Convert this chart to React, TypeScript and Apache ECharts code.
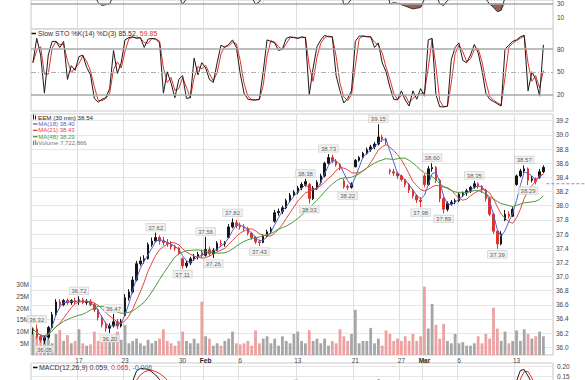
import { useEffect, useRef } from 'react';
import * as echarts from 'echarts';

const FONT = '"Liberation Sans", Arial, sans-serif';

// ---------- time axis ----------
const tradingDays = [
  'Jan 10', 'Jan 11', 'Jan 12', 'Jan 13', 'Jan 17', 'Jan 18', 'Jan 19', 'Jan 20', 'Jan 23', 'Jan 24',
  'Jan 25', 'Jan 26', 'Jan 27', 'Jan 30', 'Jan 31', 'Feb 1', 'Feb 2', 'Feb 3', 'Feb 6', 'Feb 7',
  'Feb 8', 'Feb 9', 'Feb 10', 'Feb 13', 'Feb 14', 'Feb 15', 'Feb 16', 'Feb 17', 'Feb 21', 'Feb 22',
  'Feb 23', 'Feb 24', 'Feb 27', 'Feb 28', 'Mar 1', 'Mar 2', 'Mar 3', 'Mar 6', 'Mar 7', 'Mar 8',
  'Mar 9', 'Mar 10', 'Mar 13', 'Mar 14', 'Mar 15',
];
const barsPerDay = 3;
const paddingSlots = 1;
const tickLabels: Record<string, string> = {
  'Jan 17': '17', 'Jan 23': '23', 'Jan 30': '30', 'Feb 1': 'Feb', 'Feb 6': '6', 'Feb 13': '13',
  'Feb 21': '21', 'Feb 27': '27', 'Mar 1': 'Mar', 'Mar 6': '6', 'Mar 13': '13',
};
const monthLabels = ['Feb', 'Mar'];

// ---------- price bars: [open, high, low, close] ----------
const ohlc: [number, number, number, number][] = [
  [36.24, 36.28, 36.18, 36.26], [36.26, 36.32, 36.12, 36.15], [36.15, 36.18, 36.07, 36.10],
  [36.10, 36.16, 36.05, 36.14], [36.14, 36.30, 36.12, 36.28], [36.28, 36.50, 36.26, 36.46],
  [36.46, 36.68, 36.44, 36.64], [36.64, 36.68, 36.55, 36.60], [36.60, 36.68, 36.58, 36.66],
  [36.66, 36.69, 36.60, 36.63], [36.63, 36.68, 36.60, 36.66], [36.66, 36.70, 36.61, 36.64],
  [36.64, 36.72, 36.60, 36.67], [36.67, 36.70, 36.61, 36.63], [36.63, 36.68, 36.60, 36.65],
  [36.65, 36.68, 36.58, 36.60], [36.60, 36.63, 36.50, 36.53], [36.53, 36.55, 36.38, 36.42],
  [36.42, 36.45, 36.28, 36.32], [36.32, 36.36, 36.22, 36.27], [36.27, 36.34, 36.20, 36.30],
  [36.30, 36.47, 36.28, 36.36], [36.36, 36.40, 36.26, 36.30], [36.30, 36.40, 36.28, 36.37],
  [36.45, 36.75, 36.44, 36.70], [36.70, 36.82, 36.66, 36.78], [36.78, 37.00, 36.76, 36.95],
  [36.95, 37.22, 36.93, 37.18], [37.18, 37.28, 37.15, 37.22], [37.22, 37.30, 37.18, 37.25],
  [37.25, 37.48, 37.24, 37.45], [37.45, 37.55, 37.42, 37.50], [37.50, 37.62, 37.48, 37.55],
  [37.55, 37.58, 37.45, 37.50], [37.50, 37.56, 37.44, 37.48], [37.48, 37.53, 37.42, 37.46],
  [37.46, 37.50, 37.38, 37.42], [37.42, 37.45, 37.36, 37.40], [37.40, 37.42, 37.30, 37.33],
  [37.25, 37.27, 37.11, 37.15], [37.15, 37.22, 37.12, 37.19], [37.19, 37.28, 37.16, 37.25],
  [37.25, 37.32, 37.22, 37.28], [37.28, 37.35, 37.24, 37.31], [37.34, 37.38, 37.26, 37.30],
  [37.30, 37.56, 37.28, 37.38], [37.38, 37.42, 37.28, 37.32], [37.32, 37.40, 37.26, 37.37],
  [37.37, 37.50, 37.36, 37.47], [37.47, 37.52, 37.42, 37.46], [37.46, 37.50, 37.42, 37.48],
  [37.55, 37.74, 37.54, 37.70], [37.70, 37.82, 37.68, 37.76], [37.76, 37.80, 37.68, 37.72],
  [37.72, 37.76, 37.66, 37.70], [37.70, 37.74, 37.64, 37.68], [37.68, 37.70, 37.58, 37.61],
  [37.61, 37.63, 37.52, 37.55], [37.55, 37.57, 37.46, 37.49], [37.49, 37.52, 37.43, 37.48],
  [37.48, 37.60, 37.47, 37.57], [37.57, 37.66, 37.55, 37.63], [37.63, 37.70, 37.60, 37.67],
  [37.78, 37.94, 37.76, 37.90], [37.90, 37.96, 37.86, 37.92], [37.92, 38.00, 37.88, 37.97],
  [37.97, 38.10, 37.95, 38.07], [38.07, 38.18, 38.05, 38.15], [38.15, 38.22, 38.12, 38.19],
  [38.19, 38.28, 38.16, 38.25], [38.25, 38.33, 38.22, 38.30], [38.30, 38.38, 38.27, 38.34],
  [38.30, 38.32, 38.03, 38.10], [38.10, 38.28, 38.08, 38.25], [38.25, 38.36, 38.22, 38.33],
  [38.33, 38.45, 38.30, 38.42], [38.42, 38.62, 38.40, 38.60], [38.60, 38.73, 38.58, 38.68],
  [38.68, 38.72, 38.60, 38.63], [38.63, 38.66, 38.55, 38.58], [38.58, 38.60, 38.50, 38.53],
  [38.35, 38.38, 38.24, 38.27], [38.27, 38.30, 38.22, 38.26], [38.26, 38.33, 38.24, 38.31],
  [38.55, 38.66, 38.54, 38.64], [38.64, 38.70, 38.62, 38.68], [38.68, 38.76, 38.66, 38.74],
  [38.74, 38.82, 38.72, 38.79], [38.79, 38.86, 38.76, 38.83], [38.83, 38.90, 38.80, 38.87],
  [38.87, 39.15, 38.85, 38.97], [38.97, 39.00, 38.90, 38.94], [38.94, 38.96, 38.86, 38.90],
  [38.50, 38.52, 38.44, 38.48], [38.48, 38.52, 38.42, 38.46], [38.46, 38.48, 38.38, 38.42],
  [38.42, 38.44, 38.34, 38.37], [38.37, 38.38, 38.26, 38.30], [38.30, 38.32, 38.18, 38.22],
  [38.22, 38.24, 38.10, 38.14], [38.14, 38.16, 38.04, 38.08], [38.08, 38.12, 37.98, 38.06],
  [38.42, 38.45, 38.26, 38.30], [38.30, 38.56, 38.28, 38.52], [38.52, 38.60, 38.48, 38.54],
  [38.54, 38.56, 38.32, 38.36], [38.36, 38.38, 38.05, 38.10], [38.10, 38.12, 37.89, 37.95],
  [37.95, 38.06, 37.92, 38.03], [38.03, 38.08, 38.00, 38.05], [38.05, 38.10, 38.02, 38.07],
  [38.07, 38.18, 38.05, 38.16], [38.16, 38.20, 38.12, 38.18], [38.18, 38.24, 38.14, 38.21],
  [38.21, 38.28, 38.18, 38.26], [38.26, 38.35, 38.24, 38.31], [38.31, 38.33, 38.24, 38.27],
  [38.27, 38.29, 38.18, 38.22], [38.22, 38.24, 38.06, 38.10], [38.10, 38.12, 37.85, 37.88],
  [37.88, 37.90, 37.60, 37.64], [37.64, 37.66, 37.39, 37.46], [37.46, 37.64, 37.44, 37.60],
  [37.80, 37.94, 37.78, 37.88], [37.88, 37.92, 37.82, 37.85], [37.85, 37.98, 37.84, 37.95],
  [38.30, 38.44, 38.28, 38.42], [38.42, 38.52, 38.40, 38.49], [38.49, 38.57, 38.46, 38.52],
  [38.52, 38.54, 38.29, 38.36], [38.36, 38.42, 38.33, 38.38], [38.38, 38.40, 38.30, 38.34],
  [38.40, 38.52, 38.38, 38.48], [38.48, 38.57, 38.46, 38.54],
];

// volume per bar, millions
const volumeM = [
  10, 8, 6, 8.5, 7, 5, 9, 10.7, 6, 8.5,
  5, 6, 11, 5, 4, 4.5, 10, 6, 5.5, 7,
  6, 8, 10, 6.5, 12.8, 5, 6, 7, 5, 4,
  6.5, 5, 6, 7, 11, 6, 5, 4, 6, 10,
  6, 5, 7, 5, 22.8, 8, 7, 4, 5, 4,
  6, 7, 10, 5, 4.5, 5, 6, 4, 10.5, 5,
  7, 8, 5, 7, 4, 8, 6, 5, 9, 10,
  6, 5, 10.6, 6, 7, 5, 7, 4, 6, 5,
  11, 8, 6, 9, 19.3, 5, 6, 6, 11.6, 5,
  7, 4, 10.5, 9, 6, 7, 6, 8, 6, 9,
  6, 8, 29.2, 11.3, 21.8, 12.9, 7, 13.3, 6, 5,
  9, 5, 5.5, 4, 4, 5, 8, 5, 9, 7,
  20.2, 11.3, 6, 10, 5, 6, 10.5, 6, 11, 9,
  7, 8, 10, 8,
];

// moving-average windows expressed in this chart's bars
const maBarSpans = [3, 7, 14];

// slow stochastic %K
const stoK = [
  62, 94, 72, 22, 72, 90, 90, 82, 90, 40,
  58, 52, 70, 72, 56, 46, 15, 10, 14, 16,
  28, 78, 48, 62, 92, 95, 96, 94, 95, 82,
  93, 94, 93, 88, 22, 50, 35, 16, 40, 45,
  15, 16, 68, 46, 62, 55, 40, 36, 62, 85,
  82, 86, 92, 82, 48, 22, 14, 13, 13, 14,
  50, 92, 90, 88, 78, 80, 94, 96, 95, 94,
  96, 95, 20, 55, 83, 92, 98, 96, 96, 45,
  25, 9, 15, 25, 90, 97, 97, 96, 96, 82,
  88, 62, 50, 30, 14, 13, 25, 13, 5, 25,
  14, 28, 18, 92, 94, 20, 4, 4, 5, 66,
  82, 88, 65, 62, 72, 86, 75, 52, 22, 14,
  11, 8, 5, 80, 85, 90, 92, 96, 98, 25,
  50, 40, 18, 85.52,
];

// top (cut-off) oscillator panel
const rsi = [
  48, 46, 38, 40, 52, 62, 70, 66, 67, 63,
  64, 62, 63, 58, 57, 52, 42, 31, 27, 28,
  29, 42, 38, 41, 62, 68, 74, 78, 77, 76,
  79, 80, 78, 70, 64, 58, 52, 48, 40, 29,
  36, 42, 45, 47, 46, 52, 46, 48, 54, 53,
  55, 66, 70, 64, 58, 54, 46, 38, 29, 32,
  44, 52, 57, 68, 70, 72, 75, 77, 76, 74,
  74, 72, 48, 56, 62, 66, 72, 74, 68, 60,
  52, 28, 29, 36, 60, 64, 67, 70, 71, 72,
  74, 66, 60, 29, 31, 30, 28, 26, 24, 22,
  23, 24, 36, 52, 56, 44, 29, 27, 34, 38,
  40, 45, 48, 50, 54, 58, 52, 46, 36, 29,
  24, 18, 20, 38, 40, 46, 62, 66, 68, 54,
  55, 52, 58, 62,
];
const rsiShadeLevel = 30;

// MACD(12,26,9)
const macdLine = [
  0.02, 0.01, -0.01, -0.02, 0.0, 0.03, 0.07, 0.08, 0.09, 0.085,
  0.08, 0.075, 0.07, 0.06, 0.05, 0.04, 0.02, -0.01, -0.04, -0.06,
  -0.07, -0.06, -0.06, -0.05, 0.0, 0.06, 0.125, 0.175, 0.188, 0.186,
  0.184, 0.17, 0.155, 0.132, 0.11, 0.09, 0.07, 0.05, 0.03, 0.0,
  -0.02, -0.02, -0.015, -0.01, -0.005, 0.0, -0.005, -0.002, 0.01, 0.015,
  0.02, 0.05, 0.075, 0.08, 0.075, 0.065, 0.05, 0.03, 0.01, 0.0,
  0.01, 0.025, 0.04, 0.07, 0.09, 0.105, 0.115, 0.125, 0.128, 0.128,
  0.126, 0.122, 0.09, 0.085, 0.088, 0.095, 0.11, 0.12, 0.118, 0.11,
  0.098, 0.06, 0.035, 0.025, 0.06, 0.08, 0.095, 0.108, 0.117, 0.124,
  0.13, 0.126, 0.118, 0.07, 0.03, 0.0, -0.025, -0.05, -0.075, -0.1,
  -0.12, -0.13, -0.11, -0.07, -0.04, -0.03, -0.05, -0.08, -0.085, -0.08,
  -0.07, -0.055, -0.04, -0.025, -0.01, 0.005, 0.01, 0.005, -0.01, -0.04,
  -0.09, -0.14, -0.15, -0.08, -0.04, 0.03, 0.125, 0.178, 0.182, 0.15,
  0.115, 0.09, 0.075, 0.059,
];
const macdSignal = [
  0.03, 0.025, 0.02, 0.01, 0.005, 0.01, 0.025, 0.04, 0.055, 0.065,
  0.07, 0.072, 0.072, 0.07, 0.065, 0.058, 0.05, 0.035, 0.02, 0.0,
  -0.02, -0.035, -0.045, -0.05, -0.04, -0.015, 0.04, 0.13, 0.155, 0.17,
  0.178, 0.178, 0.172, 0.162, 0.148, 0.13, 0.11, 0.09, 0.07, 0.05,
  0.03, 0.015, 0.005, 0.0, -0.004, -0.005, -0.005, -0.004, 0.0, 0.005,
  0.01, 0.02, 0.035, 0.05, 0.06, 0.063, 0.062, 0.055, 0.045, 0.035,
  0.028, 0.025, 0.028, 0.04, 0.055, 0.07, 0.085, 0.097, 0.107, 0.114,
  0.119, 0.12, 0.114, 0.106, 0.1, 0.098, 0.1, 0.104, 0.108, 0.108,
  0.106, 0.097, 0.085, 0.072, 0.068, 0.07, 0.076, 0.083, 0.092, 0.1,
  0.108, 0.113, 0.115, 0.106, 0.09, 0.07, 0.05, 0.028, 0.005, -0.02,
  -0.045, -0.07, -0.085, -0.085, -0.078, -0.068, -0.064, -0.067, -0.071, -0.073,
  -0.073, -0.069, -0.063, -0.055, -0.046, -0.036, -0.027, -0.02, -0.018, -0.022,
  -0.036, -0.06, -0.08, -0.09, -0.09, -0.04, 0.04, 0.135, 0.172, 0.172,
  0.14, 0.105, 0.08, 0.065,
];

// bars whose high / low carry a value callout
const calloutHighs = [1, 12, 21, 32, 45, 52, 71, 77, 90, 104, 115, 128];
const calloutLows = [3, 20, 39, 47, 59, 72, 82, 101, 107, 121, 129];
const lastMarker = 38.31;

// ---------- texts ----------
const mainTitle = 'EEM (30 min) 38.54';
const maLegend = ['MA(18) 38.40', 'MA(21) 38.43', 'MA(48) 38.29'];
const volumeLegend = 'Volume 7,722,866';
const stoTitle = ['Slow STO %K(14) %D(3) 85.52, ', '59.85'];
const macdTitle = ['MACD(12,26,9) 0.059, ', '0.065, ', '-0.006'];
const macdVisibleTicks = [0.15, 0.2];

// ---------- colours ----------
const C = {
  up: '#161616', down: '#e2312a',
  ma: ['#5262d2', '#e5463f', '#4a9a3c'],
  volUp: '#a6a6a6', volDown: '#eda1a1',
  grid: '#e6e6e6', vgrid: '#dedede', border: '#c8c8c8', label: '#444',
  stoD: '#e2312a', rsiFill: '#93574c',
  macdSig: '#e2312a', macdHist: '#4a5fd0',
};

const categories: string[] = [];
tradingDays.forEach((d) => {
  for (let k = 0; k < barsPerDay; k++) categories.push(`${d}#${k}`);
});
for (let p = 0; p < paddingSlots; p++) categories.push(`pad#${p}`);

const isTick = (_i: number, value: string) => {
  const [d, k] = String(value).split('#');
  return k === '0' && d in tickLabels;
};
const onStep = (v: number, step: number) => Math.abs(v / step - Math.round(v / step)) < 1e-6;

const sma = (arr: number[], n: number) =>
  arr.map((_, i) => {
    const s = Math.max(0, i - n + 1);
    let sum = 0;
    for (let j = s; j <= i; j++) sum += arr[j];
    return +(sum / (i - s + 1)).toFixed(4);
  });

export default function App() {
  const ref = useRef<HTMLDivElement>(null);

  useEffect(() => {
    const el = ref.current;
    if (!el) return;
    const chart = echarts.init(el, undefined, { renderer: 'svg' });

    const closes = ohlc.map((b) => b[3]);
    const mas = maBarSpans.map((n) => sma(closes, n));
    const stoD = stoK.map((v, i) => +((v + stoK[Math.max(0, i - 1)]) / 2).toFixed(2));
    const rsiBase = rsi.map((v) => Math.min(v, rsiShadeLevel));
    const rsiGap = rsi.map((v) => rsiShadeLevel - Math.min(v, rsiShadeLevel));

    const axisLabelBase = { fontSize: 6.5, color: C.label, fontFamily: FONT };

    const makeX = (gridIndex: number, showLabels: boolean) => ({
      type: 'category',
      gridIndex,
      data: categories,
      boundaryGap: true,
      axisLine: { show: false },
      axisTick: { show: false },
      axisLabel: showLabels
        ? {
            ...axisLabelBase,
            interval: isTick,
            margin: 2,
            formatter: (value: string) => {
              const t = tickLabels[String(value).split('#')[0]] ?? '';
              return monthLabels.includes(t) ? `{b|${t}}` : t;
            },
            rich: { b: { fontWeight: 'bold', fontSize: 6.5, color: '#222', fontFamily: FONT } },
          }
        : { show: false },
      splitLine: { show: true, interval: isTick, lineStyle: { color: C.vgrid, width: 1 } },
    });

    const gridBase = {
      left: 31, right: 32, show: true, borderColor: C.border, borderWidth: 1,
      backgroundColor: '#fff', containLabel: false, outerBoundsMode: 'none',
    };

    const calloutLabel = {
      show: true,
      fontSize: 6,
      fontFamily: FONT,
      color: '#333',
      backgroundColor: '#efefef',
      borderColor: '#c6c6c6',
      borderWidth: 0.6,
      padding: [1, 2, 0, 2],
      distance: 2,
      formatter: (p: any) => Number(p.value[1]).toFixed(2),
    };

    const option: any = {
      animation: false,
      backgroundColor: '#fff',
      textStyle: { fontFamily: FONT },
      grid: [
        { ...gridBase, top: 0, height: 29 },
        { ...gridBase, top: 29, height: 82 },
        { ...gridBase, top: 114, height: 241 },
        { ...gridBase, top: 363, height: 80 },
      ],
      xAxis: [makeX(0, false), makeX(1, false), makeX(2, true), makeX(3, false)],
      yAxis: [
        {
          type: 'value', gridIndex: 0, position: 'right', min: -6.7, max: 34.7,
          minInterval: 10, maxInterval: 10,
          axisLine: { show: false }, axisTick: { show: false }, splitLine: { show: false },
          axisLabel: { ...axisLabelBase, margin: 4, formatter: (v: number) => (v === 10 || v === 30 ? String(v) : '') },
        },
        {
          type: 'value', gridIndex: 1, position: 'right', min: -1.5, max: 106.3,
          minInterval: 10, maxInterval: 10,
          axisLine: { show: false }, axisTick: { show: false }, splitLine: { show: false },
          axisLabel: { ...axisLabelBase, margin: 4, formatter: (v: number) => ([20, 50, 80].includes(v) ? String(v) : '') },
        },
        {
          type: 'value', gridIndex: 2, position: 'right', min: 35.891, max: 39.295,
          splitNumber: 16, minInterval: 0.2, maxInterval: 0.2,
          axisLine: { show: false }, axisTick: { show: false },
          splitLine: { show: true, lineStyle: { color: C.grid, width: 1 } },
          axisLabel: { ...axisLabelBase, margin: 3, formatter: (v: number) => (onStep(v, 0.2) ? v.toFixed(1) : '') },
        },
        {
          type: 'value', gridIndex: 2, position: 'left', min: 0, max: 103e6, interval: 5e6,
          axisLine: { show: false }, axisTick: { show: false }, splitLine: { show: false },
          axisLabel: {
            ...axisLabelBase, margin: 2,
            formatter: (v: number) => (v >= 5e6 && v <= 30e6 && onStep(v, 5e6) ? `${Math.round(v / 1e6)}M` : ''),
          },
        },
        {
          type: 'value', gridIndex: 3, position: 'right', min: -0.185, max: 0.215,
          minInterval: 0.05, maxInterval: 0.05,
          axisLine: { show: false }, axisTick: { show: false },
          splitLine: { show: true, lineStyle: { color: C.grid, width: 1 } },
          axisLabel: {
            ...axisLabelBase, margin: 4,
            formatter: (v: number) => (macdVisibleTicks.some((t) => Math.abs(t - v) < 1e-6) ? v.toFixed(2) : ''),
          },
        },
      ],
      series: [
        // top oscillator
        {
          type: 'line', xAxisIndex: 0, yAxisIndex: 0, data: rsiBase, stack: 'rsiShade',
          symbol: 'none', lineStyle: { width: 0, opacity: 0 }, silent: true,
        },
        {
          type: 'line', xAxisIndex: 0, yAxisIndex: 0, data: rsiGap, stack: 'rsiShade',
          symbol: 'none', lineStyle: { width: 0, opacity: 0 }, areaStyle: { color: C.rsiFill, opacity: 0.95 }, silent: true,
        },
        {
          type: 'line', xAxisIndex: 0, yAxisIndex: 0, data: rsi, symbol: 'none',
          lineStyle: { color: '#333', width: 1 }, z: 3,
          markLine: {
            silent: true, symbol: 'none', label: { show: false },
            data: [{ yAxis: rsiShadeLevel, lineStyle: { color: '#a8a8a8', width: 1.5, type: 'solid' } }],
          },
        },
        // stochastic
        {
          type: 'line', xAxisIndex: 1, yAxisIndex: 1, data: stoD, symbol: 'none',
          lineStyle: { color: C.stoD, width: 1 },
          markLine: {
            silent: true, symbol: 'none', label: { show: false },
            data: [
              { yAxis: 80, lineStyle: { color: '#a8a8a8', width: 1.5, type: 'solid' } },
              { yAxis: 20, lineStyle: { color: '#a8a8a8', width: 1.5, type: 'solid' } },
              { yAxis: 50, lineStyle: { color: '#b0b0b0', width: 1, type: [5, 2, 1, 2] } },
            ],
          },
        },
        {
          type: 'line', xAxisIndex: 1, yAxisIndex: 1, data: stoK, symbol: 'none',
          lineStyle: { color: '#1a1a1a', width: 1 },
        },
        // volume
        {
          type: 'bar', xAxisIndex: 2, yAxisIndex: 3, barWidth: 2.8, z: 1,
          data: volumeM.map((v, i) => ({
            value: v * 1e6,
            itemStyle: { color: ohlc[i][3] >= ohlc[i][0] ? C.volUp : C.volDown },
          })),
        },
        // price
        {
          type: 'candlestick', xAxisIndex: 2, yAxisIndex: 2, barWidth: 2,
          data: ohlc.map(([o, h, l, c]) => [o, c, l, h]),
          itemStyle: { color: C.up, color0: C.down, borderColor: C.up, borderColor0: C.down, borderWidth: 1 },
          z: 3,
        },
        ...mas.map((d, k) => ({
          type: 'line', xAxisIndex: 2, yAxisIndex: 2, data: d, symbol: 'none',
          lineStyle: { color: C.ma[k], width: 1 }, z: 4,
        })),
        {
          type: 'scatter', xAxisIndex: 2, yAxisIndex: 2, symbolSize: 0, z: 6, silent: true,
          data: [
            ...calloutHighs.map((i) => ({ value: [i, ohlc[i][1]], label: { ...calloutLabel, position: 'top' } })),
            ...calloutLows.map((i) => ({ value: [i, ohlc[i][2]], label: { ...calloutLabel, position: 'bottom' } })),
          ],
        },
        // MACD
        {
          type: 'line', xAxisIndex: 3, yAxisIndex: 4, data: macdSignal, symbol: 'none',
          lineStyle: { color: C.macdSig, width: 1 },
        },
        {
          type: 'line', xAxisIndex: 3, yAxisIndex: 4, data: macdLine, symbol: 'none',
          lineStyle: { color: '#1a1a1a', width: 1 },
        },
      ],
      graphic: [
        // main legend
        { id: 'eem-ico1', type: 'rect', z: 20, shape: { x: 33, y: 114.5, width: 1, height: 5 }, style: { fill: '#222' } },
        { id: 'eem-ico2', type: 'rect', z: 20, shape: { x: 35, y: 115.5, width: 1, height: 4 }, style: { fill: '#222' } },
        {
          id: 'eem-t', type: 'text', z: 20, x: 38, y: 117.5,
          style: { text: mainTitle, fontSize: 6.2, fontFamily: FONT, fill: '#222', textVerticalAlign: 'middle', verticalAlign: 'middle' },
        },
        ...maLegend.flatMap((t, k) => [
          {
            id: `ma-l${k}`, type: 'line', z: 20,
            shape: { x1: 33, y1: 124 + k * 6.35, x2: 37.5, y2: 124 + k * 6.35 },
            style: { stroke: C.ma[k], lineWidth: 1.3 },
          },
          {
            id: `ma-t${k}`, type: 'text', z: 20, x: 38.3, y: 124 + k * 6.35,
            style: { text: t, fontSize: 6, fontFamily: FONT, fill: C.ma[k], textVerticalAlign: 'middle', verticalAlign: 'middle' },
          },
        ]),
        { id: 'vol-i1', type: 'rect', z: 20, shape: { x: 33, y: 141, width: 1, height: 4 }, style: { fill: '#777' } },
        { id: 'vol-i2', type: 'rect', z: 20, shape: { x: 34.8, y: 140, width: 1, height: 5 }, style: { fill: '#777' } },
        { id: 'vol-i3', type: 'rect', z: 20, shape: { x: 36.6, y: 142, width: 1, height: 3 }, style: { fill: '#777' } },
        {
          id: 'vol-t', type: 'text', z: 20, x: 38.3, y: 143.2,
          style: { text: volumeLegend, fontSize: 6, fontFamily: FONT, fill: '#777', textVerticalAlign: 'middle', verticalAlign: 'middle' },
        },
        // STO title
        { id: 'sto-l', type: 'line', z: 20, shape: { x1: 31.5, y1: 33.5, x2: 36, y2: 33.5 }, style: { stroke: '#111', lineWidth: 1.5 } },
        {
          id: 'sto-t', type: 'text', z: 20, x: 38, y: 33.5,
          style: {
            text: `{a|${stoTitle[0]}}{r|${stoTitle[1]}}`,
            fontSize: 7, fontFamily: FONT, textVerticalAlign: 'middle', verticalAlign: 'middle',
            rich: {
              a: { fontSize: 7, fontFamily: FONT, fill: '#333', color: '#333' },
              r: { fontSize: 7, fontFamily: FONT, fill: C.stoD, color: C.stoD },
            },
          },
        },
        // MACD title
        { id: 'macd-l', type: 'line', z: 20, shape: { x1: 33, y1: 367.5, x2: 37.5, y2: 367.5 }, style: { stroke: '#111', lineWidth: 1.5 } },
        {
          id: 'macd-t', type: 'text', z: 20, x: 39, y: 367.5,
          style: {
            text: `{a|${macdTitle[0]}}{r|${macdTitle[1]}}{b|${macdTitle[2]}}`,
            fontSize: 7, fontFamily: FONT, textVerticalAlign: 'middle', verticalAlign: 'middle',
            rich: {
              a: { fontSize: 7, fontFamily: FONT, fill: '#333', color: '#333' },
              r: { fontSize: 7, fontFamily: FONT, fill: C.macdSig, color: C.macdSig },
              b: { fontSize: 7, fontFamily: FONT, fill: C.macdHist, color: C.macdHist },
            },
          },
        },
      ],
    };

    chart.setOption(option);

    const yPix = chart.convertToPixel({ yAxisIndex: 2 } as any, lastMarker) as unknown as number;
    const xPix = chart.convertToPixel({ xAxisIndex: 2 } as any, categories[ohlc.length - 1]) as unknown as number;
    if (Number.isFinite(yPix) && Number.isFinite(xPix)) {
      chart.setOption({
        graphic: [
          {
            id: 'last-marker', type: 'line', z: 15,
            shape: { x1: xPix + 3, y1: yPix, x2: 585, y2: yPix },
            style: { stroke: '#8c8ce0', lineWidth: 1, lineDash: [3, 2] },
          },
        ],
      });
    }

    return () => chart.dispose();
  }, []);

  return (
    <div
      ref={ref}
      style={{ position: 'fixed', left: 0, top: 0, width: 585, height: 380, background: '#fff' }}
    />
  );
}
